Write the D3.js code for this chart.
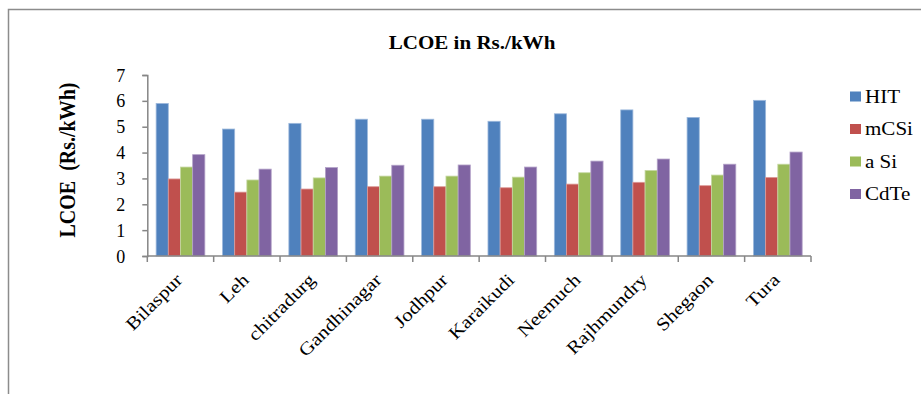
<!DOCTYPE html>
<html>
<head>
<meta charset="utf-8">
<script src="https://cdn.jsdelivr.net/npm/d3@7"></script>
<style>
  body { margin: 0; background: #fff; }
  svg text { font-family: "Liberation Serif", "Times New Roman", serif !important; fill: #000; }
</style>
</head>
<body>
<div id="chart"></div>
<script>
//////////////////////////////////////////////////////////////////////////////
// Data

var cities = ["Bilaspur", "Leh", "chitradurg", "Gandhinagar", "Jodhpur",
              "Karaikudi", "Neemuch", "Rajhmundry", "Shegaon", "Tura"];
var series = ["HIT", "mCSi", "a Si", "CdTe"];

var hit  = [5.90, 4.91, 5.13, 5.29, 5.29, 5.21, 5.50, 5.65, 5.36, 6.02];
var mcsi = [2.98, 2.47, 2.59, 2.68, 2.68, 2.64, 2.78, 2.85, 2.72, 3.04];
var asi  = [3.44, 2.94, 3.02, 3.09, 3.09, 3.05, 3.22, 3.31, 3.13, 3.55];
var cdte = [3.92, 3.36, 3.42, 3.51, 3.52, 3.44, 3.67, 3.75, 3.55, 4.02];

var yTicks = [0, 1, 2, 3, 4, 5, 6, 7];
var colors = ["#4F81BD", "#C0504D", "#9BBB59", "#8064A2"];
var edges  = ["#9DB9DC", "#DC9A98", "#C5D8A2", "#B3A2C8"];

//////////////////////////////////////////////////////////////////////////////
// Layout

var width = 921, height = 394;
var plot = { left: 147.3, right: 811, top: 75, bottom: 256 };
var stretch = 1.17;   // the picture's text is a bit wider than it is tall

var svg = d3.select("#chart")
    .append("svg")
    .attr("width", width)
    .attr("height", height);

// outer frame of the chart object
svg.append("rect")
    .attr("x", 8.5).attr("y", 9.5)
    .attr("width", 1000).attr("height", 500)
    .attr("fill", "none")
    .attr("stroke", "#8c8c8c")
    .attr("stroke-width", 1.5);

var x0 = d3.scaleBand().domain(cities).range([plot.left, plot.right]).padding(0);
var gap = x0.bandwidth() * 0.133;
var x1 = d3.scaleBand().domain(series).range([gap, x0.bandwidth() - gap]).padding(0);
var y = d3.scaleLinear().domain([0, 7]).range([plot.bottom, plot.top]);

var rows = cities.map(function(c, i) {
    return { city: c, values: [hit[i], mcsi[i], asi[i], cdte[i]] };
});

//////////////////////////////////////////////////////////////////////////////
// Bars

var groups = svg.append("g")
    .selectAll("g")
    .data(rows)
    .enter()
    .append("g")
    .attr("transform", function(d) { return "translate(" + x0(d.city) + ",0)"; });

groups.selectAll("rect")
    .data(function(d) { return d.values.map(function(v, k) { return { k: k, v: v }; }); })
    .enter()
    .append("rect")
    .attr("x", function(d) { return x1(series[d.k]); })
    .attr("y", function(d) { return y(d.v); })
    .attr("width", x1.bandwidth())
    .attr("height", function(d) { return y(0) - y(d.v); })
    .attr("fill", function(d) { return colors[d.k]; })
    .attr("stroke", function(d) { return edges[d.k]; })
    .attr("stroke-width", 0.8);

//////////////////////////////////////////////////////////////////////////////
// Axes

var axisColor = "#868686";

var yAxis = svg.append("g")
    .attr("transform", "translate(" + plot.left + ",0)")
    .call(d3.axisLeft(y).tickValues(yTicks).tickSize(5).tickPadding(17).tickFormat(d3.format("d")));
yAxis.select(".domain").attr("stroke", axisColor).attr("stroke-width", 1.5);
yAxis.selectAll(".tick line").attr("stroke", axisColor).attr("stroke-width", 1.5);
yAxis.selectAll(".tick text")
    .style("font-size", "18px")
    .attr("dy", "0.34em");

var xAxis = svg.append("g")
    .attr("transform", "translate(0," + plot.bottom + ")");
xAxis.append("line")
    .attr("x1", plot.left).attr("x2", plot.right)
    .attr("stroke", axisColor).attr("stroke-width", 1.5);
xAxis.selectAll("line.sep")
    .data(cities.concat([null]))
    .enter()
    .append("line")
    .attr("class", "sep")
    .attr("x1", function(d, i) { return plot.left + i * x0.step(); })
    .attr("x2", function(d, i) { return plot.left + i * x0.step(); })
    .attr("y1", 0).attr("y2", 6)
    .attr("stroke", axisColor).attr("stroke-width", 1.5);

xAxis.selectAll("text.cat")
    .data(cities)
    .enter()
    .append("text")
    .attr("class", "cat")
    .attr("text-anchor", "end")
    .style("font-size", "18px")
    .attr("transform", function(d) {
        return "translate(" + (x0(d) + x0.bandwidth() / 2 + 3) + ",25) rotate(-45) scale(" + stretch + ",1)";
    })
    .text(function(d) { return d; });

//////////////////////////////////////////////////////////////////////////////
// Titles

svg.append("text")
    .attr("text-anchor", "middle")
    .attr("transform", "translate(472,49) scale(" + stretch + ",1)")
    .style("font-weight", "bold")
    .style("font-size", "18px")
    .text("LCOE in Rs./kWh");

svg.append("text")
    .attr("transform", "translate(75,160) scale(" + stretch + ",1) rotate(-90)")
    .attr("text-anchor", "middle")
    .style("font-weight", "bold")
    .style("font-size", "20px")
    .style("white-space", "pre")
    .text("LCOE  (Rs./kWh)");

//////////////////////////////////////////////////////////////////////////////
// Legend

var legend = svg.append("g")
    .selectAll("g")
    .data(series)
    .enter()
    .append("g")
    .attr("transform", function(d, i) { return "translate(850," + (96.5 + i * 32.5) + ")"; });

legend.append("rect")
    .attr("x", 0).attr("y", -5)
    .attr("width", 11).attr("height", 10)
    .attr("fill", function(d, i) { return colors[i]; });

legend.append("text")
    .attr("transform", "translate(15,6.3) scale(" + stretch + ",1)")
    .style("font-size", "18px")
    .text(function(d) { return d; });
</script>
</body>
</html>
